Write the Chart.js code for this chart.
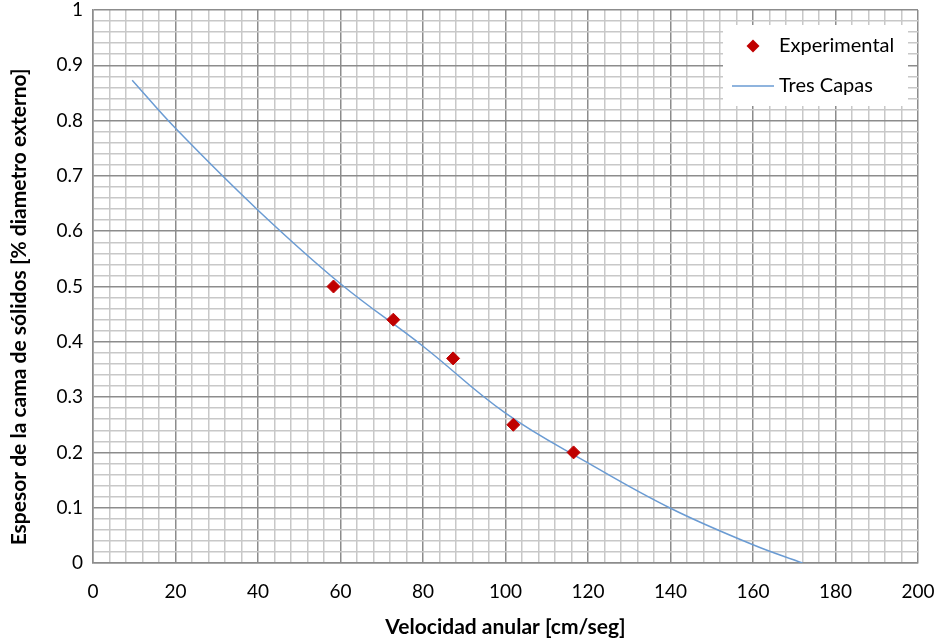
<!DOCTYPE html>
<html lang="es">
<head>
<meta charset="utf-8">
<title>Espesor de la cama de sólidos vs velocidad anular</title>
<script src="https://cdn.jsdelivr.net/npm/chart.js@4.4.1/dist/chart.umd.min.js"></script>
<style>
  html, body { margin: 0; padding: 0; background: #fff; }
  canvas { display: block; }
</style>
</head>
<body>
<canvas id="espesorChart" width="940" height="642"></canvas>
<script>
// Puntos experimentales
const expVelocidad = [58.3, 72.8, 87.3, 101.9, 116.5];
const expEspesor = [0.50, 0.44, 0.37, 0.25, 0.20];

// Curva del modelo "Tres Capas"
const modeloVelocidad = [9.5, 20, 40, 60, 80, 100, 120, 140, 160, 172];
const modeloEspesor = [0.873, 0.786, 0.638, 0.505, 0.392, 0.271, 0.181, 0.099, 0.033, 0];

const seriesLabels = ['Experimental', 'Tres Capas'];
const xTitle = 'Velocidad anular [cm/seg]';
const yTitle = 'Espesor de la cama de sólidos [% diametro externo]';

const FONT = 'Lato, "Open Sans", sans-serif';
const RED = '#c00000';
const BLUE = '#6a9bd3';
const MINOR_GRID = '#c8c8c8';
const MAJOR_GRID = '#8c8c8c';

const toPoints = (xs, ys) => xs.map((x, i) => ({ x: x, y: ys[i] }));

// Legend drawn as a white box inside the plot, like the original
const legendBox = {
    id: 'legendBox',
    afterDraw(chart) {
        const { ctx, chartArea } = chart;
        const w = 185, h = 81;
        const left = chartArea.right - w - 10;
        const top = chartArea.top + 15;

        ctx.save();
        ctx.fillStyle = '#fff';
        ctx.fillRect(left, top, w, h);

        ctx.font = '20px ' + FONT;
        ctx.textBaseline = 'middle';
        ctx.textAlign = 'left';

        // Experimental
        const y1 = top + 21;
        const cx = left + 30, r = 6.5;
        ctx.beginPath();
        ctx.moveTo(cx, y1 - r);
        ctx.lineTo(cx + r, y1);
        ctx.lineTo(cx, y1 + r);
        ctx.lineTo(cx - r, y1);
        ctx.closePath();
        ctx.fillStyle = RED;
        ctx.fill();
        ctx.fillStyle = '#000';
        ctx.fillText(seriesLabels[0], left + 56, y1);

        // Tres Capas
        const y2 = top + 61;
        ctx.strokeStyle = BLUE;
        ctx.lineWidth = 1.5;
        ctx.beginPath();
        ctx.moveTo(left + 9, y2);
        ctx.lineTo(left + 51, y2);
        ctx.stroke();
        ctx.fillText(seriesLabels[1], left + 56, y2);
        ctx.restore();
    }
};

const isMajorX = v => Math.round(v) % 20 === 0;
const isMajorY = v => Math.round(v * 100) % 10 === 0;

const ctx = document.getElementById('espesorChart').getContext('2d');
new Chart(ctx, {
    type: 'scatter',
    data: {
        datasets: [{
            label: seriesLabels[0],
            data: toPoints(expVelocidad, expEspesor),
            pointStyle: 'rectRot',
            pointRadius: 6.5,
            pointHoverRadius: 6.5,
            backgroundColor: RED,
            borderColor: RED,
            borderWidth: 1,
            showLine: false,
            order: 0
        }, {
            label: seriesLabels[1],
            data: toPoints(modeloVelocidad, modeloEspesor),
            showLine: true,
            borderColor: BLUE,
            borderWidth: 1.5,
            pointRadius: 0,
            pointHoverRadius: 0,
            tension: 0.4,
            fill: false,
            order: 1
        }]
    },
    options: {
        responsive: false,
        animation: false,
        layout: {
            padding: { left: 0, right: 22, top: 10, bottom: 0 }
        },
        plugins: {
            legend: { display: false },
            tooltip: { enabled: false }
        },
        scales: {
            x: {
                type: 'linear',
                min: 0,
                max: 200,
                afterFit: scale => {
                    scale.height = 79;
                    scale.paddingLeft = 0;
                    scale.paddingRight = 0;
                },
                ticks: {
                    stepSize: 4,
                    autoSkip: false,
                    maxRotation: 0,
                    padding: 17,
                    color: '#000',
                    font: { family: FONT, size: 19 },
                    callback: v => isMajorX(v) ? String(Math.round(v)) : ''
                },
                grid: {
                    drawTicks: false,
                    lineWidth: 1.5,
                    color: c => isMajorX(c.tick.value) ? MAJOR_GRID : MINOR_GRID
                },
                border: { color: MAJOR_GRID, width: 1.5 },
                title: {
                    display: true,
                    text: xTitle,
                    color: '#000',
                    font: { family: FONT, size: 21, weight: 'bold' },
                    padding: { top: 0, bottom: 2 }
                }
            },
            y: {
                type: 'linear',
                min: 0,
                max: 1,
                afterFit: scale => {
                    scale.width = 93;
                    scale.paddingTop = 0;
                    scale.paddingBottom = 0;
                },
                ticks: {
                    stepSize: 0.02,
                    autoSkip: false,
                    padding: 10,
                    color: '#000',
                    font: { family: FONT, size: 19 },
                    callback: v => isMajorY(v) ? String(Number(v.toFixed(1))) : ''
                },
                grid: {
                    drawTicks: false,
                    lineWidth: 1.5,
                    color: c => isMajorY(c.tick.value) ? MAJOR_GRID : MINOR_GRID
                },
                border: { color: MAJOR_GRID, width: 1.5 },
                title: {
                    display: true,
                    // trailing non-breaking spaces push the title a bit lower, as in the original
                    text: yTitle + '\u00a0'.repeat(8),
                    color: '#000',
                    font: { family: FONT, size: 21, weight: 'bold' },
                    padding: { top: 7, bottom: 0 }
                }
            }
        }
    },
    plugins: [legendBox]
});
</script>
</body>
</html>
